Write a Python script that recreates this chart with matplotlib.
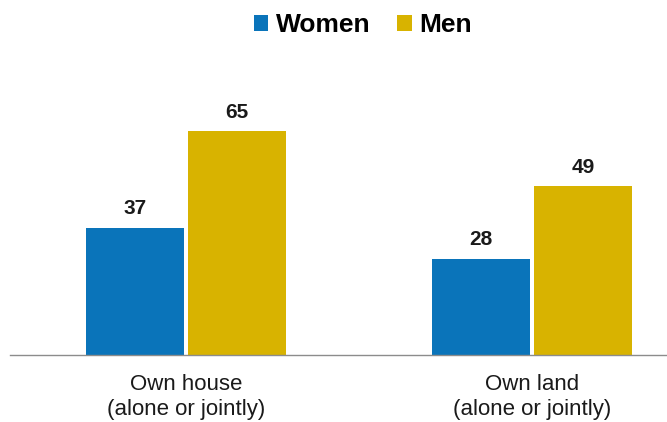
import matplotlib.pyplot as plt
import numpy as np

plt.rcParams['font.family'] = ['Liberation Sans', 'DejaVu Sans']

categories = ['Own house\n(alone or jointly)', 'Own land\n(alone or jointly)']
series = ['Women', 'Men']
women = [37, 28]
men = [65, 49]
colors = ['#0A74BA', '#D8B300']

fig = plt.figure(figsize=(6.67, 4.22), dpi=100)
ax = fig.add_axes([0.015, 0.159, 0.985, 0.699])

x = np.arange(len(categories))
w = 0.283
gap = 0.006
b1 = ax.bar(x - w/2 - gap, women, width=w, color=colors[0], label=series[0])
b2 = ax.bar(x + w/2 + gap, men, width=w, color=colors[1], label=series[1])
for bars in (b1, b2):
    for r in bars:
        ax.text(r.get_x() + r.get_width()/2, r.get_height() + 2.8, '{:g}'.format(r.get_height()),
                ha='center', va='bottom', fontsize=15, fontweight='bold', color='#1a1a1a')

ax.set_xlim(-0.509, 1.39)
ax.set_ylim(0, 85.7)
ax.set_xticks(x)
ax.set_xticklabels(categories, fontsize=16, color='#1a1a1a', linespacing=1.2)
ax.tick_params(axis='x', length=0, pad=14)
ax.set_yticks([])
for s in ['top', 'right', 'left']:
    ax.spines[s].set_visible(False)
ax.spines['bottom'].set_color('#8c8c8c')
ax.spines['bottom'].set_linewidth(1)

fig.legend(handles=[b1, b2], labels=series, loc='center', bbox_to_anchor=(0.544, 0.94),
           ncol=2, frameon=False, handlelength=0.55, handleheight=0.55, handletextpad=0.3,
           columnspacing=1.0, prop={'size': 19, 'weight': 'bold'})

plt.savefig('out.png', dpi=100)
